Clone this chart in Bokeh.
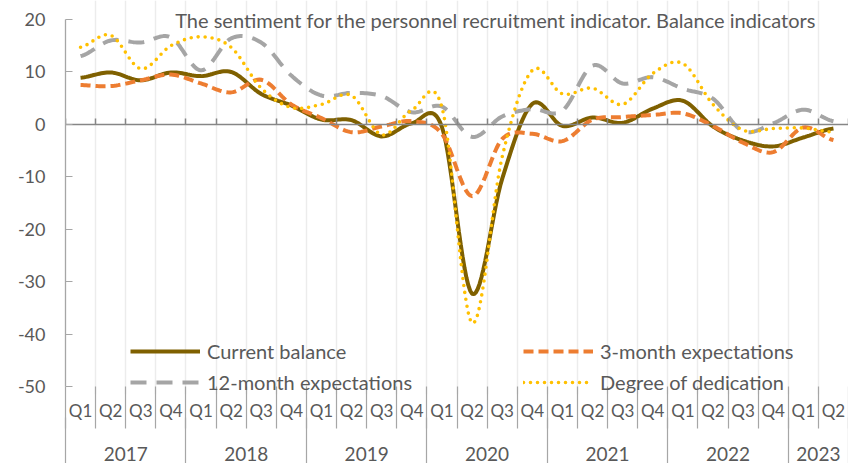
import numpy as np
from bokeh.plotting import figure
from bokeh.models import Range1d, LinearAxis, FixedTicker, Grid, Legend, LegendItem, Label
from bokeh.embed import file_html
from bokeh.resources import INLINE

# ---------------- data ----------------
years = ["2017", "2018", "2019", "2020", "2021", "2022", "2023"]
quarters_per_year = [4, 4, 4, 4, 4, 4, 2]
quarter_labels = ["Q1", "Q2", "Q3", "Q4"] * 6 + ["Q1", "Q2"]
y_ticks = [20, 10, 0, -10, -20, -30, -40, -50]
y_tick_labels = ["20", "10", "0", "-10", "-20", "-30", "-40", "-50"]

current_balance = [8.9, 9.9, 8.4, 9.9, 9.2, 10.0, 5.8, 3.6, 0.9, 0.8, -2.3, 0.2, -0.5,
                   -32.3, -10.4, 3.9, -0.3, 1.3, 0.3, 3.0, 4.5, -0.4, -3.1, -4.2, -2.5, -0.8]
three_month = [7.5, 7.3, 8.4, 9.5, 7.8, 6.1, 8.5, 3.8, 1.2, -1.5, -0.4, 0.6, -1.8,
               -13.7, -2.8, -1.8, -3.2, 0.9, 1.4, 1.8, 2.1, -0.3, -3.5, -5.3, -0.6, -3.0]
twelve_month = [13.0, 16.0, 15.6, 16.6, 10.3, 16.4, 15.6, 9.3, 5.5, 6.0, 5.4, 2.3, 3.4,
                -2.4, 1.5, 2.9, 2.6, 11.2, 7.8, 9.0, 6.8, 4.9, -1.3, 0.2, 2.8, 0.6]
dedication = [14.7, 17.0, 10.6, 15.0, 16.7, 14.7, 6.9, 3.2, 3.8, 5.5, -2.0, 2.7, 3.3,
              -37.9, -6.2, 10.3, 5.8, 6.9, 3.8, 9.7, 11.6, 3.8, -1.1, -0.8, -0.7, -1.5]

title_text = "The sentiment for the personnel recruitment indicator. Balance indicators"

# ---------------- helpers ----------------
n = len(quarter_labels)
x_centers = np.arange(n) + 0.5
bounds_all = list(range(n + 1))
year_bounds = [0] + [int(v) for v in np.cumsum(quarters_per_year)]
year_centers = [s + c / 2 for s, c in zip(year_bounds[:-1], quarters_per_year)]


def smooth(xs, ys, steps=16):
    """Catmull-Rom rendering of a series (drawing only, like Excel's smoothed line)."""
    ys = np.asarray(ys, float)
    m = len(ys)
    ox, oy = [], []
    for i in range(m - 1):
        p0 = ys[i - 1] if i > 0 else ys[i]
        p1, p2 = ys[i], ys[i + 1]
        p3 = ys[i + 2] if i + 2 < m else ys[i + 1]
        m1, m2 = (p2 - p0) / 2, (p3 - p1) / 2
        t = np.linspace(0, 1, steps, endpoint=(i == m - 2))
        h00 = 2 * t**3 - 3 * t**2 + 1
        h10 = t**3 - 2 * t**2 + t
        h01 = -2 * t**3 + 3 * t**2
        h11 = t**3 - t**2
        ox.extend(xs[i] + t * (xs[i + 1] - xs[i]))
        oy.extend(h00 * p1 + h10 * m1 + h01 * p2 + h11 * m2)
    return ox, oy


FONT = "Lato"
TXT = "#595959"
SEP = "#a6a6a6"

# frame spans y=0..394 of the figure; value 20 sits at y=19, -50 at y=386
FRAME_H = 394
PX_PER_UNIT = (386 - 19) / 70
y_lo = -50 - (FRAME_H - 386) / PX_PER_UNIT
y_hi = 20 + 19 / PX_PER_UNIT

p = figure(width=848, height=463, x_range=Range1d(0, n), y_range=Range1d(y_lo, y_hi),
           x_axis_type=None, y_axis_type=None, output_backend="svg",
           toolbar_location=None, min_border_left=65, min_border_right=0,
           min_border_top=0, min_border_bottom=463 - FRAME_H)
p.outline_line_color = None
p.background_fill_color = "white"
p.border_fill_color = "white"

# vertical light gridlines at quarter boundaries
p.add_layout(Grid(dimension=0, ticker=FixedTicker(ticks=bounds_all),
                  grid_line_color="#ececec", grid_line_width=1.5))

# y axis
yaxis = LinearAxis(ticker=FixedTicker(ticks=y_ticks), bounds=(-50, 20),
                   major_label_overrides={t: s for t, s in zip(y_ticks, y_tick_labels)},
                   major_tick_in=7, major_tick_out=0,
                   minor_tick_line_color=None, axis_line_color=SEP,
                   major_tick_line_color=SEP, axis_line_width=1.3,
                   major_label_standoff=20, major_label_text_font=FONT,
                   major_label_text_font_size="18px", major_label_text_color=TXT)
p.add_layout(yaxis, "left")

# quarter labels row (separators at every quarter boundary)
qaxis = LinearAxis(ticker=FixedTicker(ticks=[float(c) for c in x_centers], minor_ticks=bounds_all),
                   major_label_overrides={float(c): q for c, q in zip(x_centers, quarter_labels)},
                   major_tick_in=0, major_tick_out=0, major_tick_line_color=None,
                   minor_tick_in=FRAME_H - 386, minor_tick_out=34, minor_tick_line_color=SEP,
                   minor_tick_line_width=1.2, axis_line_color=None,
                   major_label_standoff=-29, major_label_text_font=FONT,
                   major_label_text_font_size="17px", major_label_text_color=TXT)
p.add_layout(qaxis, "below")

# year labels row (separators at year boundaries)
yraxis = LinearAxis(ticker=FixedTicker(ticks=year_centers, minor_ticks=year_bounds),
                    major_label_overrides={c: y for c, y in zip(year_centers, years)},
                    major_tick_in=0, major_tick_out=0, major_tick_line_color=None,
                    minor_tick_in=6, minor_tick_out=48, minor_tick_line_color=SEP,
                    minor_tick_line_width=1.2, axis_line_color=None,
                    major_label_standoff=-25, major_label_text_font=FONT,
                    major_label_text_font_size="19px", major_label_text_color=TXT)
p.add_layout(yraxis, "below")

# horizontal category axis line at zero with small tick marks
zaxis = LinearAxis(fixed_location=0, ticker=FixedTicker(ticks=bounds_all),
                   major_tick_in=6, major_tick_out=0, minor_tick_line_color=None,
                   axis_line_color="#868686", axis_line_width=1.5,
                   major_tick_line_color="#868686", major_tick_line_width=1.5,
                   major_label_standoff=0,
                   major_label_text_font_size="0px", major_label_text_alpha=0)
p.add_layout(zaxis, "below")

# series
sx, sy = smooth(x_centers, current_balance)
r_cb = p.line(sx, sy, line_color="#7f6000", line_width=4)
sx, sy = smooth(x_centers, three_month)
r_3m = p.line(sx, sy, line_color="#ed7d31", line_width=4, line_dash="10 5")
sx, sy = smooth(x_centers, twelve_month)
r_12 = p.line(sx, sy, line_color="#a5a5a5", line_width=4, line_dash="16 10")
sx, sy = smooth(x_centers, dedication)
r_dd = p.line(sx, sy, line_color="#ffc000", line_width=3.6, line_dash="0 7", line_cap="round")

legend_style = dict(glyph_width=70, glyph_height=16, label_height=16, label_standoff=7,
                    spacing=7, padding=0, margin=0, border_line_color=None,
                    background_fill_alpha=0, label_text_font=FONT,
                    label_text_font_size="20px", label_text_color=TXT)
leg1 = Legend(items=[LegendItem(label="Current balance", renderers=[r_cb]),
                     LegendItem(label="12-month expectations", renderers=[r_12])],
              location=(65, 0), **legend_style)
leg2 = Legend(items=[LegendItem(label="3-month expectations", renderers=[r_3m]),
                     LegendItem(label="Degree of dedication", renderers=[r_dd])],
              location=(458, 0), **legend_style)
p.add_layout(leg1)
p.add_layout(leg2)

p.add_layout(Label(x=430, y=FRAME_H - 19, x_units="screen", y_units="screen", text=title_text,
                   text_align="center", text_baseline="alphabetic", text_font=FONT,
                   text_font_size="20px", text_color=TXT))

open("out.html", "w").write(file_html(p, INLINE))
